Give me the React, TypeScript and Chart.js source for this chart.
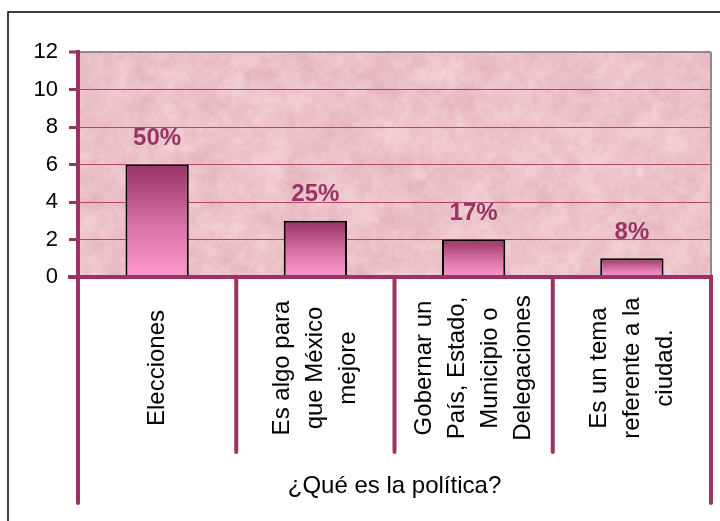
import React, { useEffect, useRef } from 'react';
import { Chart, registerables } from 'chart.js';

Chart.register(...registerables);

// ---- data ----
const categories: string[][] = [
  ['Elecciones'],
  ['Es algo para', 'que México', 'mejore'],
  ['Gobernar un', 'País, Estado,', 'Municipio o', 'Delegaciones'],
  ['Es un tema', 'referente a la', 'ciudad.'],
];
const counts: number[] = [6, 3, 2, 1];
const percentLabels: string[] = ['50%', '25%', '17%', '8%'];
const yTicks: number[] = [0, 2, 4, 6, 8, 10, 12];
const axisTitle = '¿Qué es la política?';

// ---- styles ----
const PURPLE = '#993366';
const GRID = 'rgb(172,70,120)';
const GRAY = '#8c8c8c';
const FONT = "'Liberation Sans', Arial, sans-serif";

function hash(x: number, y: number) {
  const h = Math.sin(x * 127.1 + y * 311.7) * 43758.5453;
  return h - Math.floor(h);
}
function vnoise(x: number, y: number) {
  const xi = Math.floor(x), yi = Math.floor(y);
  const xf = x - xi, yf = y - yi;
  const u = xf * xf * (3 - 2 * xf), v = yf * yf * (3 - 2 * yf);
  const a = hash(xi, yi), b = hash(xi + 1, yi), c = hash(xi, yi + 1), d = hash(xi + 1, yi + 1);
  return a + (b - a) * u + (c - a) * v + (a - b - c + d) * u * v;
}

let texCache: HTMLCanvasElement | null = null;
function getTexture(w: number, h: number) {
  if (texCache && texCache.width === w && texCache.height === h) return texCache;
  const c = document.createElement('canvas');
  c.width = w; c.height = h;
  const g = c.getContext('2d')!;
  const img = g.createImageData(w, h);
  const dark = [224, 174, 182];
  const light = [244, 211, 215];
  const octs = [[1 / 30, 0.26], [1 / 14, 0.26], [1 / 7, 0.22], [1 / 3.2, 0.16], [1 / 1.6, 0.1]];
  for (let y = 0; y < h; y++) {
    for (let x = 0; x < w; x++) {
      let n = 0;
      for (const [f, a] of octs) n += vnoise(x * f + 13.7, y * f + 7.3) * a;
      let t = (n - 0.5) * 1.4 + 0.55;
      t = Math.max(0, Math.min(1, t));
      const i = (y * w + x) * 4;
      img.data[i] = dark[0] + (light[0] - dark[0]) * t;
      img.data[i + 1] = dark[1] + (light[1] - dark[1]) * t;
      img.data[i + 2] = dark[2] + (light[2] - dark[2]) * t;
      img.data[i + 3] = 255;
    }
  }
  g.putImageData(img, 0, 0);
  texCache = c;
  return c;
}

const decorPlugin = {
  id: 'decor',
  beforeDraw(chart: any) {
    const { ctx, chartArea: ca } = chart;
    ctx.save();
    ctx.fillStyle = '#ffffff';
    ctx.fillRect(0, 0, chart.width, chart.height);
    const tex = getTexture(Math.round(ca.right - ca.left), Math.round(ca.bottom - ca.top));
    ctx.drawImage(tex, ca.left, ca.top);
    ctx.strokeStyle = '#000';
    ctx.lineWidth = 1.5;
    ctx.beginPath();
    ctx.moveTo(8, chart.height);
    ctx.lineTo(8, 12);
    ctx.lineTo(chart.width, 12);
    ctx.stroke();
    ctx.restore();
  },
  beforeDatasetsDraw(chart: any) {
    const { ctx, chartArea: ca } = chart;
    ctx.save();
    ctx.strokeStyle = GRAY;
    ctx.lineWidth = 2;
    ctx.beginPath();
    ctx.moveTo(ca.right, ca.top);
    ctx.lineTo(ca.right, ca.bottom);
    ctx.stroke();
    ctx.restore();
  },
  afterDatasetsDraw(chart: any) {
    const { ctx } = chart;
    const meta = chart.getDatasetMeta(0);
    ctx.save();
    ctx.fillStyle = PURPLE;
    ctx.font = `bold 24px ${FONT}`;
    ctx.textAlign = 'center';
    ctx.textBaseline = 'middle';
    meta.data.forEach((el: any, i: number) => {
      ctx.fillText(percentLabels[i], el.x, el.y - 26);
    });
    ctx.restore();
  },
  afterDraw(chart: any) {
    const { ctx, chartArea: ca } = chart;
    const xs = chart.scales.x;
    ctx.save();
    // x axis line
    ctx.strokeStyle = PURPLE;
    ctx.lineWidth = 4;
    ctx.beginPath();
    ctx.moveTo(ca.left - 10, ca.bottom);
    ctx.lineTo(ca.right + 2, ca.bottom);
    ctx.stroke();
    // category dividers
    ctx.lineCap = 'round';
    const n = categories.length;
    for (let k = 0; k <= n; k++) {
      const x = xs.getPixelForValue(k - 0.5);
      const outer = k === 0 || k === n;
      ctx.beginPath();
      ctx.moveTo(x, ca.bottom + 2);
      ctx.lineTo(x, outer ? 503 : 452);
      ctx.stroke();
    }
    // category labels
    ctx.fillStyle = '#000';
    ctx.font = `24px ${FONT}`;
    ctx.textAlign = 'center';
    ctx.textBaseline = 'middle';
    const lh = 33;
    categories.forEach((lines, i) => {
      const cx = xs.getPixelForValue(i);
      lines.forEach((line, j) => {
        const x = cx + (j - (lines.length - 1) / 2) * lh;
        ctx.save();
        ctx.translate(x, 368);
        ctx.rotate(-Math.PI / 2);
        ctx.fillText(line, 0, 0);
        ctx.restore();
      });
    });
    ctx.restore();
  },
};

export default function App() {
  const ref = useRef<HTMLCanvasElement | null>(null);
  useEffect(() => {
    if (!ref.current) return;
    const chart = new Chart(ref.current, {
      type: 'bar',
      data: {
        labels: categories.map((c) => c.join(' ')),
        datasets: [
          {
            data: counts,
            backgroundColor: (c: any) => {
              const chart = c.chart;
              const ys = chart.scales?.y;
              if (!ys || c.raw == null) return '#cc6699';
              const top = ys.getPixelForValue(c.raw);
              const bottom = ys.getPixelForValue(0);
              if (!isFinite(top) || !isFinite(bottom) || top === bottom) return '#cc6699';
              const g = chart.ctx.createLinearGradient(0, top, 0, bottom);
              g.addColorStop(0, '#983264');
              g.addColorStop(0.55, '#d972a6');
              g.addColorStop(1, '#ff99cc');
              return g;
            },
            borderColor: '#000',
            borderWidth: 2,
            categoryPercentage: 1,
            barPercentage: 0.4,
          },
        ],
      },
      options: {
        responsive: false,
        animation: false,
        devicePixelRatio: 1,
        layout: { padding: { top: 52, right: 9, left: 0, bottom: 0 } },
        plugins: { legend: { display: false }, tooltip: { enabled: false } },
        scales: {
          x: {
            type: 'category',
            ticks: { display: false },
            grid: { display: false },
            border: { display: false },
            title: {
              display: true,
              text: axisTitle,
              color: '#000',
              font: { family: FONT, size: 24, lineHeight: 1.2 },
              padding: { top: 0, bottom: 20 },
            },
            afterFit: (s: any) => {
              s.height = 244;
            },
          },
          y: {
            min: yTicks[0],
            max: yTicks[yTicks.length - 1],
            ticks: {
              stepSize: yTicks[1] - yTicks[0],
              color: '#000',
              font: { family: FONT, size: 22 },
              padding: 11,
            },
            grid: {
              color: (c: any) => (c.tick && c.tick.value === yTicks[yTicks.length - 1] ? GRAY : GRID),
              lineWidth: (c: any) => (c.tick && c.tick.value === yTicks[yTicks.length - 1] ? 2 : 1),
              tickColor: PURPLE,
              tickWidth: 3,
              tickLength: 9,
              drawTicks: true,
            },
            border: { display: true, color: PURPLE, width: 4 },
            afterFit: (s: any) => {
              s.width = 78;
            },
          },
        },
      },
      plugins: [decorPlugin],
    } as any);
    return () => chart.destroy();
  }, []);
  return (
    <div style={{ position: 'absolute', left: 0, top: 0, width: 720, height: 521 }}>
      <canvas ref={ref} width={720} height={521} style={{ display: 'block' }} />
    </div>
  );
}
